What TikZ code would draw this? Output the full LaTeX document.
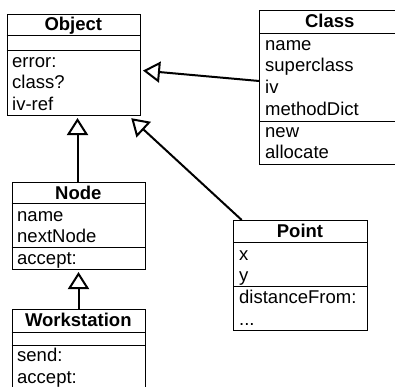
\documentclass[tikz,border=0pt]{standalone}
\usepackage{fontspec}
\setmainfont{Liberation Sans}
\usetikzlibrary{arrows.meta,calc}
\begin{document}
\begin{tikzpicture}[x=1pt,y=-1pt,
  box/.style={draw, line width=1pt, inner sep=0pt, anchor=north west},
  divider/.style={line width=1pt},
  ttl/.style={font=\fontsize{18.5}{21}\selectfont\bfseries, anchor=base, inner sep=0pt},
  txt/.style={font=\fontsize{18.5}{21}\selectfont, anchor=base west, inner sep=0pt},
  inh/.style={line width=2pt, shorten >=1pt, -{Triangle[open, length=17pt, width=21pt, line width=2pt]}}]
\useasboundingbox (0,0) rectangle (395,386);
\clip (0,0) rectangle (395,386);

% Object
\node[box, minimum width=133.3pt, minimum height=101pt] (object) at (6.7,14) {};
\draw[divider] (6.7,35) -- (140,35);
\draw[divider] (6.7,50) -- (140,50);
\node[ttl] (objt) at (73.3,30.5) {Object};
\node[txt] (obj1) at (12,67) {error:};
\node[txt] (obj2) at (12,88.5) {class?};
\node[txt] (obj3) at (12,110) {iv-ref};

% Class
\node[box, minimum width=141pt, minimum height=154pt] (class) at (259.3,10) {};
\draw[divider] (259.3,33) -- (400.3,33);
\draw[divider] (259.3,121.7) -- (400.3,121.7);
\node[ttl] (clst) at (329.8,27.3) {Class};
\node[txt] (cls1) at (265,50) {name};
\node[txt] (cls2) at (265,71.7) {superclass};
\node[txt] (cls3) at (265,93.3) {iv};
\node[txt] (cls4) at (265,115) {methodDict};
\node[txt] (cls5) at (265,137) {new};
\node[txt] (cls6) at (265,158.5) {allocate};

% Node
\node[box, minimum width=133.3pt, minimum height=87pt] (node) at (11.7,182) {};
\draw[divider] (11.7,203.5) -- (145,203.5);
\draw[divider] (11.7,247.7) -- (145,247.7);
\node[ttl] (nodt) at (78.3,199) {Node};
\node[txt] (nod1) at (17,221) {name};
\node[txt] (nod2) at (17,242.5) {nextNode};
\node[txt] (nod3) at (17,264) {accept:};

% Workstation
\node[box, minimum width=133.3pt, minimum height=90pt] (work) at (11.7,309) {};
\draw[divider] (11.7,332) -- (145,332);
\draw[divider] (11.7,345) -- (145,345);
\node[ttl] (wrkt) at (78.3,326) {Workstation};
\node[txt] (wrk1) at (17,361.5) {send:};
\node[txt] (wrk2) at (17,383) {accept:};

% Point
\node[box, minimum width=133.4pt, minimum height=110pt] (point) at (233.3,220) {};
\draw[divider] (233.3,242) -- (366.7,242);
\draw[divider] (233.3,286) -- (366.7,286);
\node[ttl] (pntt) at (300,237.5) {Point};
\node[txt] (pnt1) at (239,260) {x};
\node[txt] (pnt2) at (239,281.5) {y};
\node[txt] (pnt3) at (239,303.5) {distanceFrom:};
\node[txt] (pnt4) at (239,325) {...};

% Inheritance connectors
\draw[inh] ($(class.north west)+(0,71)$) -- ($(object.east)+(1,5.5)$);
\draw[inh] (node.north -| 77.5,0) -- ($(object.south -| 77.5,0)+(0,1)$);
\draw[inh] (work.north -| 78.5,0) -- ($(node.south -| 78.5,0)+(0,1)$);
\draw[inh] ($(point.north west)+(8.4,0)$) -- ($(object.south east)+(-10.5,1.5)$);
\end{tikzpicture}
\end{document}
